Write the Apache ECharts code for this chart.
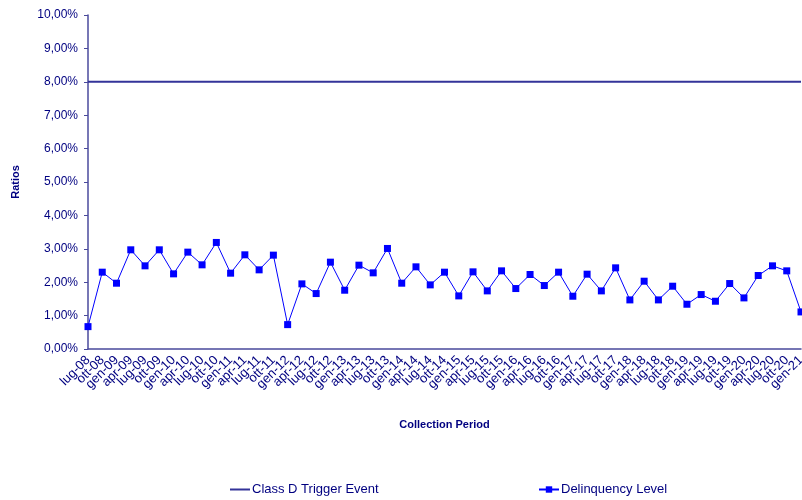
<!DOCTYPE html>
<html><head><meta charset="utf-8">
<script src="https://cdn.jsdelivr.net/npm/echarts@6/dist/echarts.min.js"></script>
<style>html,body{margin:0;padding:0;background:#fff}#c{width:802px;height:500px}</style>
</head><body><div id="c"></div>
<script>
var categories = ['lug-08','ott-08','gen-09','apr-09','lug-09','ott-09','gen-10','apr-10','lug-10','ott-10',
'gen-11','apr-11','lug-11','ott-11','gen-12','apr-12','lug-12','ott-12','gen-13','apr-13','lug-13','ott-13',
'gen-14','apr-14','lug-14','ott-14','gen-15','apr-15','lug-15','ott-15','gen-16','apr-16','lug-16','ott-16',
'gen-17','apr-17','lug-17','ott-17','gen-18','apr-18','lug-18','ott-18','gen-19','apr-19','lug-19','ott-19',
'gen-20','apr-20','lug-20','ott-20','gen-21'];
var delinquency = [0.67,2.30,1.97,2.97,2.49,2.97,2.25,2.90,2.52,3.19,
2.27,2.82,2.37,2.81,0.73,1.95,1.66,2.60,1.76,2.51,2.28,3.01,
1.97,2.46,1.92,2.30,1.59,2.31,1.74,2.34,1.81,2.23,1.90,2.30,
1.58,2.24,1.74,2.43,1.47,2.03,1.47,1.88,1.34,1.63,1.43,1.96,
1.53,2.20,2.49,2.34,1.11];
var triggerLevel = 8.00;
var triggerSeries = categories.map(function(){ return triggerLevel; });
var yMin = 0, yMax = 10, yStep = 1;

var navy = '#000080';
var axisCol = '#4a4a9c';
var font = 'Liberation Sans, Arial, sans-serif';
var chart = echarts.init(document.getElementById('c'));
chart.setOption({
  animation: false,
  grid: {left: 88, right: 1, top: 15, bottom: 151, containLabel: false, outerBoundsMode: 'none'},
  xAxis: {
    type: 'category', data: categories, boundaryGap: false,
    name: 'Collection Period', nameLocation: 'middle', nameGap: 70,
    nameTextStyle: {color: navy, fontWeight: 'bold', fontSize: 11, fontFamily: font},
    axisLine: {lineStyle: {color: axisCol, width: 1.5}},
    axisTick: {show: false},
    axisLabel: {interval: 0, rotate: 45, color: navy, fontSize: 13, fontFamily: font, margin: 9, hideOverlap: false}
  },
  yAxis: {
    type: 'value', min: yMin, max: yMax, interval: yStep,
    name: 'Ratios', nameLocation: 'middle', nameGap: 67,
    nameTextStyle: {color: navy, fontWeight: 'bold', fontSize: 11, fontFamily: font},
    axisLine: {show: true, lineStyle: {color: axisCol, width: 1.5}},
    axisTick: {show: true, length: 4, lineStyle: {color: axisCol}},
    splitLine: {show: false},
    axisLabel: {color: navy, fontSize: 12, fontFamily: font, margin: 10,
      formatter: function(v){ return v.toFixed(2).replace('.', ',') + '%'; }}
  },
  legend: [
    {data: [{name: 'Class D Trigger Event', icon: 'rect'}], left: 230, top: 483, padding: 0, itemWidth: 20, itemHeight: 2, itemGap: 5,
     textStyle: {color: navy, fontSize: 13, fontFamily: font, padding: [0,0,0,-3]}},
    {data: ['Delinquency Level'], left: 538, top: 483, padding: 0, itemWidth: 20, itemHeight: 8, itemGap: 5,
     textStyle: {color: navy, fontSize: 13, fontFamily: font, padding: [0,0,0,-3]}}
  ],
  series: [
    {name: 'Class D Trigger Event', type: 'line', data: triggerSeries, symbol: 'none',
     lineStyle: {color: '#333399', width: 2}, itemStyle: {color: '#333399'}},
    {name: 'Delinquency Level', type: 'line', data: delinquency, symbol: 'rect', symbolSize: 7,
     lineStyle: {color: '#0000ff', width: 1}, itemStyle: {color: '#0000ff'}}
  ]
});
</script></body></html>
